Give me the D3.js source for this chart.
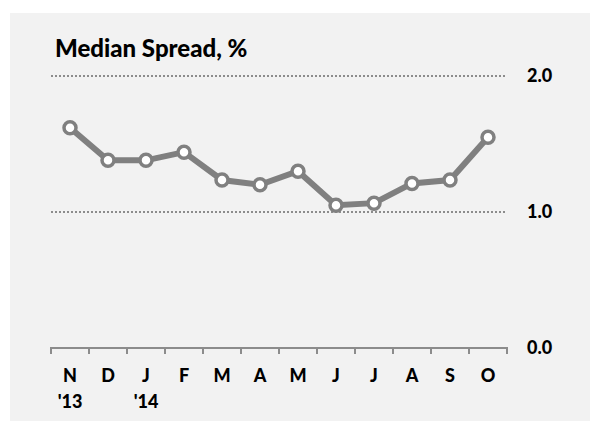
<!DOCTYPE html>
<html>
<head>
<meta charset="utf-8">
<script src="https://cdn.jsdelivr.net/npm/d3@7"></script>
<style>
  body { margin: 0; background: #fff; }
  text { font-family: Lato, "Open Sans", sans-serif; font-weight: 900; fill: #000; }
</style>
</head>
<body>
<svg id="wykres"></svg>
<script>
// dane
let miesiace = ['N', 'D', 'J', 'F', 'M', 'A', 'M2', 'J2', 'J3', 'A2', 'S', 'O'];
let etykiety = ['N', 'D', 'J', 'F', 'M', 'A', 'M', 'J', 'J', 'A', 'S', 'O'];
let lata = ['\'13', '', '\'14', '', '', '', '', '', '', '', '', ''];
let spread = [1.62, 1.38, 1.38, 1.44, 1.235, 1.20, 1.30, 1.05, 1.065, 1.21, 1.235, 1.55];
let osY = [0, 1, 2];

let svg = d3.select('#wykres').attr('width', 590).attr('height', 421);

svg.append('rect')
  .attr('x', 10).attr('y', 13)
  .attr('width', 580).attr('height', 408)
  .attr('fill', '#f2f2f2');

let x = d3.scaleBand().domain(miesiace).range([51, 507]);
let y = d3.scaleLinear().domain([0, 2]).range([348, 76]);

// linie siatki
svg.selectAll('.siatka')
  .data(osY.filter(d => d > 0))
  .enter().append('line')
  .attr('x1', 51).attr('x2', 506)
  .attr('y1', d => y(d)).attr('y2', d => y(d))
  .attr('stroke', '#8c8c8c')
  .attr('stroke-width', 2)
  .attr('stroke-dasharray', '2,2');

// etykiety osi Y
svg.selectAll('.ety')
  .data(osY)
  .enter().append('text')
  .attr('x', 527)
  .attr('y', d => y(d) + 6)
  .attr('font-size', 18)
  .text(d => d.toFixed(1));

// os X
svg.append('path')
  .attr('d', 'M51,354V348H507V354')
  .attr('fill', 'none')
  .attr('stroke', '#8c8c8c').attr('stroke-width', 2);
svg.append('g').selectAll('line')
  .data(miesiace.slice(1))
  .enter().append('line')
  .attr('x1', d => x(d)).attr('x2', d => x(d))
  .attr('y1', 348).attr('y2', 354)
  .attr('stroke', '#8c8c8c').attr('stroke-width', 2);

svg.selectAll('.mies')
  .data(miesiace)
  .enter().append('text')
  .attr('x', d => x(d) + x.bandwidth() / 2)
  .attr('y', 382)
  .attr('text-anchor', 'middle')
  .attr('font-size', 18)
  .text((d, i) => etykiety[i]);

svg.selectAll('.rok')
  .data(miesiace)
  .enter().append('text')
  .attr('x', d => x(d) + x.bandwidth() / 2)
  .attr('y', 408)
  .attr('text-anchor', 'middle')
  .attr('font-size', 18)
  .text((d, i) => lata[i]);

// linia
let line = d3.line()
  .x((d, i) => x(miesiace[i]) + x.bandwidth() / 2)
  .y(d => y(d));

svg.append('path')
  .datum(spread)
  .attr('d', line)
  .attr('fill', 'none')
  .attr('stroke', '#808080')
  .attr('stroke-width', 6);

svg.selectAll('.pkt')
  .data(spread)
  .enter().append('circle')
  .attr('cx', (d, i) => x(miesiace[i]) + x.bandwidth() / 2)
  .attr('cy', d => y(d))
  .attr('r', 6)
  .attr('fill', '#fff')
  .attr('stroke', '#808080')
  .attr('stroke-width', 3.5);

// tytul
svg.append('text')
  .attr('x', 55).attr('y', 57)
  .attr('font-size', 24)
  .text('Median Spread, %');
</script>
</body>
</html>
